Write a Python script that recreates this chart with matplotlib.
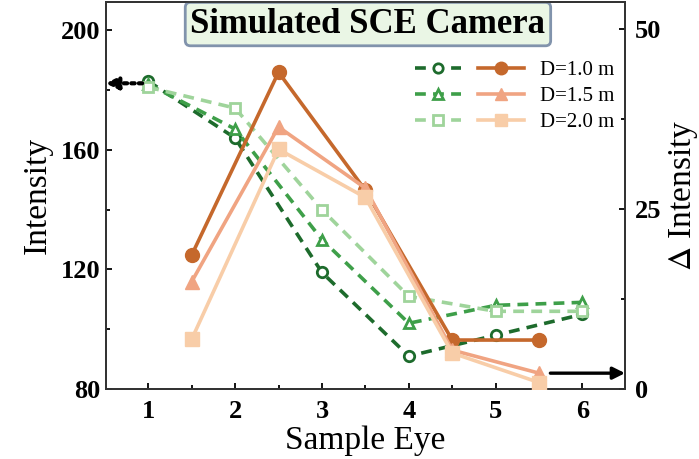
import matplotlib
matplotlib.use('Agg')
import matplotlib.pyplot as plt
from matplotlib.legend_handler import HandlerTuple
from matplotlib.ticker import MultipleLocator

# ---- data ----
eyes = [1, 2, 3, 4, 5, 6]
eyes_mid = [1.5, 2.5, 3.5, 4.5, 5.5]
labels = ['D=1.0 m', 'D=1.5 m', 'D=2.0 m']

# intensity (left axis)
int_10 = [183, 164, 119, 91, 98, 105]
int_15 = [182, 167, 130, 102, 108, 109]
int_20 = [181, 174, 140, 111, 106, 106]

# delta intensity (right axis)
d_10 = [18.6, 44.0, 27.6, 6.8, 6.8]
d_15 = [14.9, 36.4, 27.9, 5.4, 2.2]
d_20 = [6.9, 33.3, 26.6, 5.0, 0.9]

greens = ['#1d6b2c', '#3e9f49', '#9fd49b']
oranges = ['#c5682c', '#f0a482', '#f8cda8']
markers = ['o', '^', 's']

plt.rcParams['font.family'] = ['Liberation Serif', 'DejaVu Serif']
plt.rcParams['mathtext.fontset'] = 'stix'

fig = plt.figure(figsize=(6.99, 4.59), dpi=100)
ax = fig.add_axes([0.1512, 0.1525, 0.7430, 0.8431])
ax2 = ax.twinx()

g_lines = []
for vals, c, m in zip([int_10, int_15, int_20], greens, markers):
    l, = ax.plot(eyes, vals, ls=(0, (3.0, 2.0)), lw=2.6, color=c, marker=m, ms=7.5,
                 mfc='white', mec=c, mew=2, zorder=3)
    g_lines.append(l)

o_lines = []
for vals, c, m in zip([d_10, d_15, d_20], oranges, markers):
    l, = ax2.plot(eyes_mid, vals, ls='-', lw=2.6, color=c, marker=m, ms=10,
                  mfc=c, mec=c, zorder=3)
    o_lines.append(l)

ax.set_xlim(0.51, 6.49)
ax.set_ylim(80, 209.5)
ax2.set_ylim(0, 53.75)

ax.set_xticks(eyes)
ax.xaxis.set_minor_locator(MultipleLocator(0.5))
ax.set_yticks([80, 120, 160, 200])
ax.yaxis.set_minor_locator(MultipleLocator(20))
ax2.set_yticks([0, 25, 50])
ax2.yaxis.set_minor_locator(MultipleLocator(12.5))

for a in (ax, ax2):
    a.tick_params(which='both', direction='in', width=1.3, labelsize=19)
    a.tick_params(which='major', length=4.5)
    a.tick_params(which='minor', length=3)
    for s in a.spines.values():
        s.set_linewidth(1.3)
        s.set_color('#333333')
    for t in a.get_xticklabels() + a.get_yticklabels():
        t.set_fontweight('bold')
ax.tick_params(axis='x', pad=8)
ax2.tick_params(axis='y', pad=7)

ax.set_xlabel('Sample Eye', fontsize=24, labelpad=2)
ax.set_ylabel('Intensity', fontsize=24, labelpad=6)
ax2.set_ylabel(r'$\Delta$ Intensity', fontsize=24, labelpad=4)

# arrows pointing to the axis each group belongs to
ax.annotate('', xy=(0.51, 182.3), xytext=(0.93, 182.3),
            arrowprops=dict(arrowstyle='-|>', ls=(0, (0.8, 1.0)), lw=3.0, color='black',
                            mutation_scale=18, shrinkA=0, shrinkB=0))
ax2.annotate('', xy=(6.49, 2.2), xytext=(5.63, 2.2),
             arrowprops=dict(arrowstyle='-|>', lw=2.4, color='black',
                             mutation_scale=18, shrinkA=0, shrinkB=0))

ax.text(0.505, 0.943, 'Simulated SCE Camera', transform=ax.transAxes,
        ha='center', va='center', fontsize=25, fontweight='bold', zorder=10,
        bbox=dict(boxstyle='round,pad=0.15', fc='#eaf6e5', ec='#8193ac', lw=2))

ax2.legend([(g, o) for g, o in zip(g_lines, o_lines)], labels,
           handler_map={tuple: HandlerTuple(ndivide=None, pad=0.8)},
           loc='upper right', bbox_to_anchor=(1.0, 0.875), frameon=False,
           fontsize=15, handlelength=5.2, handletextpad=0.8, labelspacing=0.3,
           borderaxespad=0.1, markerscale=0.9)

fig.savefig('out.png', dpi=100)
